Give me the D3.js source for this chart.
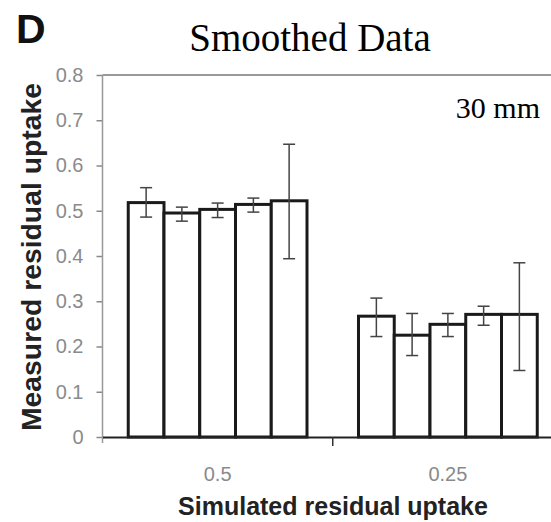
<!DOCTYPE html>
<html>
<head>
<meta charset="utf-8">
<script src="https://cdn.jsdelivr.net/npm/d3@7"></script>
<style>
  body { margin: 0; background: #fff; }
  svg { display: block; }
</style>
</head>
<body>
<div id="chart"></div>
<script>
// categories on the x axis (simulated residual uptake)
const categories = ["0.5", "0.25"];
// five bars in each group
const series = ["s1", "s2", "s3", "s4", "s5"];
// measured means, one row per category
const means = [
  [0.518, 0.495, 0.503, 0.514, 0.522],
  [0.267, 0.225, 0.249, 0.271, 0.271]
];
// error bar ends
const upper = [
  [0.551, 0.508, 0.517, 0.528, 0.647],
  [0.307, 0.273, 0.273, 0.289, 0.385]
];
const lower = [
  [0.486, 0.477, 0.485, 0.497, 0.394],
  [0.222, 0.180, 0.222, 0.247, 0.147]
];
const yTicks = [0, 0.1, 0.2, 0.3, 0.4, 0.5, 0.6, 0.7, 0.8];

const width = 551, height = 522;
const margin = { top: 75, right: -12, bottom: 85, left: 102.5 };

const svg = d3.select("#chart").append("svg")
  .attr("width", width)
  .attr("height", height);

const x = d3.scaleBand()
  .domain(categories)
  .range([margin.left, width - margin.right]);
const xi = d3.scaleBand()
  .domain(series)
  .range([0, x.bandwidth()])
  .paddingOuter(0.72);
const y = d3.scaleLinear()
  .domain([0, 0.8])
  .range([height - margin.bottom, margin.top]);

// table built from the arrays
const rows = [];
categories.forEach((c, i) => series.forEach((s, j) => {
  rows.push({ cat: c, s: s, v: means[i][j], lo: lower[i][j], hi: upper[i][j] });
}));

// top frame line
svg.append("line")
  .attr("x1", margin.left).attr("x2", width)
  .attr("y1", y(0.8)).attr("y2", y(0.8))
  .attr("stroke", "#999").attr("stroke-width", 2);

// y axis
const yAxis = svg.append("g")
  .attr("transform", `translate(${margin.left},0)`)
  .call(d3.axisLeft(y).tickValues(yTicks).tickSize(6).tickPadding(13)
    .tickFormat(d => d === 0 ? "0" : d3.format(".1f")(d)));
yAxis.select(".domain").remove();
yAxis.selectAll(".tick line").attr("stroke", "#888").attr("stroke-width", 1.5);
yAxis.selectAll(".tick text")
  .attr("fill", "#8a8a8a")
  .style("font-family", "Arial, 'Liberation Sans', sans-serif")
  .style("font-size", "20px");
svg.append("line")
  .attr("x1", margin.left).attr("x2", margin.left)
  .attr("y1", y(0.8)).attr("y2", y(0) + 6)
  .attr("stroke", "#999").attr("stroke-width", 1.5);

// bars
svg.append("g").selectAll("rect")
  .data(rows)
  .join("rect")
  .attr("x", d => x(d.cat) + xi(d.s))
  .attr("y", d => y(d.v))
  .attr("width", xi.bandwidth())
  .attr("height", d => y(0) - y(d.v))
  .attr("fill", "#fff")
  .attr("stroke", "#1a1a1a")
  .attr("stroke-width", 3);

// error bars
const eb = svg.append("g").attr("stroke", "#444").attr("stroke-width", 1.5);
const cx = d => x(d.cat) + xi(d.s) + xi.bandwidth() / 2;
eb.selectAll(".v").data(rows).join("line")
  .attr("x1", cx).attr("x2", cx)
  .attr("y1", d => y(d.hi)).attr("y2", d => y(d.lo));
eb.selectAll(".t").data(rows).join("line")
  .attr("x1", d => cx(d) - 6).attr("x2", d => cx(d) + 6)
  .attr("y1", d => y(d.hi)).attr("y2", d => y(d.hi));
eb.selectAll(".b").data(rows).join("line")
  .attr("x1", d => cx(d) - 6).attr("x2", d => cx(d) + 6)
  .attr("y1", d => y(d.lo)).attr("y2", d => y(d.lo));

// x axis
const xAxis = svg.append("g")
  .attr("transform", `translate(0,${y(0)})`)
  .call(d3.axisBottom(x).tickSize(0).tickPadding(30));
xAxis.select(".domain").attr("stroke", "#222").attr("stroke-width", 2);
xAxis.selectAll(".tick text")
  .attr("fill", "#8a8a8a")
  .style("font-family", "Arial, 'Liberation Sans', sans-serif")
  .style("font-size", "20px");
// separator ticks between groups
svg.append("g").selectAll("line")
  .data(categories.slice(1))
  .join("line")
  .attr("x1", d => x(d)).attr("x2", d => x(d))
  .attr("y1", y(0)).attr("y2", y(0) + 9)
  .attr("stroke", "#333").attr("stroke-width", 1.5);

// texts
svg.append("text")
  .attr("x", 16).attr("y", 43)
  .style("font-family", "Arial, 'Liberation Sans', sans-serif")
  .style("font-weight", "bold").style("font-size", "41px")
  .attr("fill", "#111")
  .text("D");

svg.append("text")
  .attr("x", 310).attr("y", 51)
  .attr("text-anchor", "middle")
  .style("font-family", "'Liberation Serif', 'Times New Roman', serif")
  .style("font-size", "39px")
  .text("Smoothed Data");

svg.append("text")
  .attr("x", 540).attr("y", 118)
  .attr("text-anchor", "end")
  .style("font-family", "'Liberation Serif', 'Times New Roman', serif")
  .style("font-size", "30px")
  .text("30 mm");

svg.append("text")
  .attr("transform", `translate(41,257) rotate(-90)`)
  .attr("text-anchor", "middle")
  .attr("textLength", 348)
  .attr("lengthAdjust", "spacingAndGlyphs")
  .style("font-family", "Arial, 'Liberation Sans', sans-serif")
  .style("font-weight", "bold").style("font-size", "28px")
  .attr("fill", "#222")
  .text("Measured residual uptake");

svg.append("text")
  .attr("x", 333).attr("y", 515)
  .attr("text-anchor", "middle")
  .style("font-family", "Arial, 'Liberation Sans', sans-serif")
  .style("font-weight", "bold").style("font-size", "25px")
  .attr("fill", "#222")
  .text("Simulated residual uptake");
</script>
</body>
</html>
